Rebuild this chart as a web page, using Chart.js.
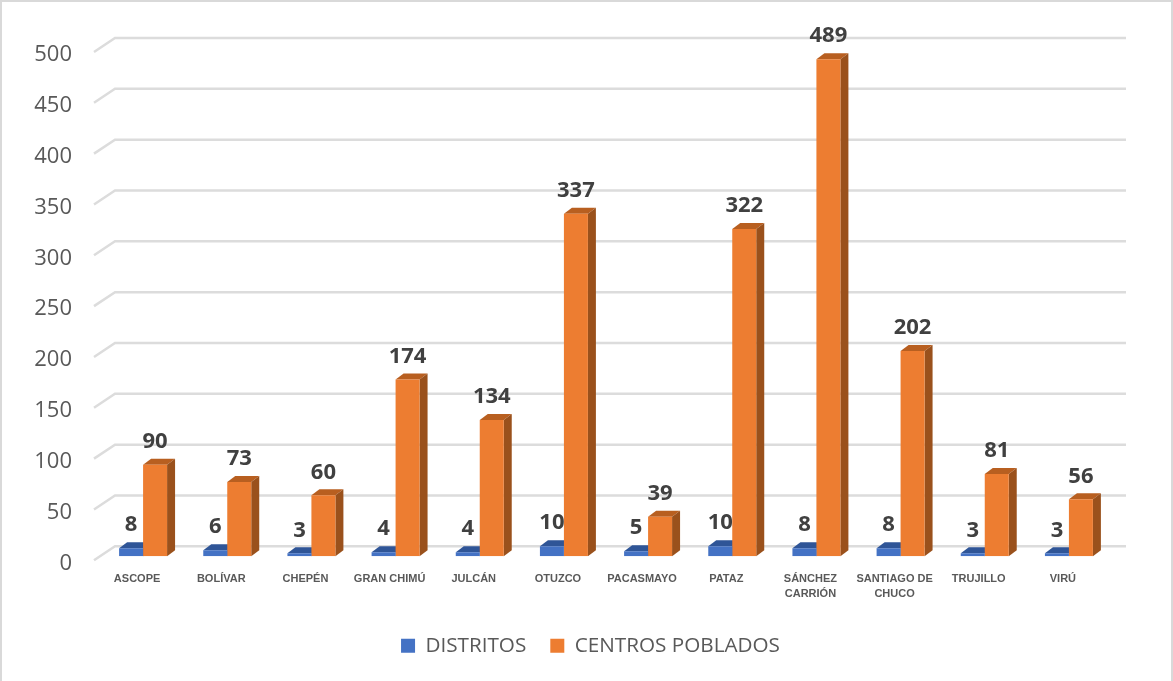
<!DOCTYPE html>
<html>
<head>
<meta charset="utf-8">
<script src="https://cdn.jsdelivr.net/npm/chart.js"></script>
<style>
  html, body { margin: 0; padding: 0; background: #fff; }
  #wrap { position: relative; width: 1173px; height: 681px; overflow: hidden; }
  #frame { position: absolute; inset: 0; border: 2px solid #d9d9d9; border-bottom: none; box-sizing: border-box; pointer-events: none; }
</style>
</head>
<body>
<div id="wrap">
  <canvas id="chart" width="1173" height="681"></canvas>
  <div id="frame"></div>
</div>
<script>
const categories = [
  "ASCOPE", "BOLÍVAR", "CHEPÉN", "GRAN CHIMÚ", "JULCÁN", "OTUZCO", "PACASMAYO",
  "PATAZ", ["SÁNCHEZ", "CARRIÓN"], ["SANTIAGO DE", "CHUCO"], "TRUJILLO", "VIRÚ"
];
const distritos = [8, 6, 3, 4, 4, 10, 5, 10, 8, 8, 3, 3];
const centrosPoblados = [90, 73, 60, 174, 134, 337, 39, 322, 489, 202, 81, 56];
const yMax = 500;
const yStep = 50;

const sideColors = [
  { top: "#2f5597", side: "#2b4d8a" },
  { top: "#b85f20", side: "#9a511c" }
];

// extruded faces behind each bar
const bar3d = {
  id: "bar3d",
  beforeDatasetsDraw(chart) {
    const c = chart.ctx;
    const dx = 8, dy = 6;
    chart.data.datasets.forEach((ds, i) => {
      chart.getDatasetMeta(i).data.forEach(bar => {
        const p = bar.getProps(["x", "y", "base", "width"], true);
        const l = p.x - p.width / 2, r = p.x + p.width / 2;
        c.fillStyle = sideColors[i].top;
        c.beginPath();
        c.moveTo(l, p.y);
        c.lineTo(l + dx, p.y - dy);
        c.lineTo(r + dx, p.y - dy);
        c.lineTo(r, p.y);
        c.fill();
        c.fillStyle = sideColors[i].side;
        c.beginPath();
        c.moveTo(r, p.y);
        c.lineTo(r + dx, p.y - dy);
        c.lineTo(r + dx, p.base - dy);
        c.lineTo(r, p.base);
        c.fill();
      });
    });
  }
};

// back wall grid with the little floor diagonal on the left
const grid3d = {
  id: "grid3d",
  beforeDatasetsDraw(chart) {
    const c = chart.ctx;
    const y = chart.scales.y;
    const a = chart.chartArea;
    c.save();
    c.strokeStyle = "#dcdcdc";
    c.lineWidth = 2.5;
    y.ticks.forEach(t => {
      const py = y.getPixelForValue(t.value);
      c.beginPath();
      c.moveTo(a.left - 7, py + 4);
      c.lineTo(a.left + 14, py - 10);
      c.lineTo(a.right + 15, py - 10);
      c.stroke();
    });
    c.restore();
  }
};

const valueLabels = {
  id: "valueLabels",
  afterDatasetsDraw(chart) {
    const c = chart.ctx;
    c.save();
    c.font = "bold 22px 'Open Sans'";
    c.fillStyle = "#404040";
    c.textAlign = "center";
    c.textBaseline = "middle";
    chart.data.datasets.forEach((ds, i) => {
      chart.getDatasetMeta(i).data.forEach((bar, j) => {
        c.fillText(ds.data[j], bar.x, bar.y - 23);
      });
    });
    c.restore();
  }
};

// the legend sits centred on the whole picture, not on the plot
const legendShift = {
  id: "legendShift",
  afterLayout(chart) {
    chart.legend.left += 35;
    chart.legend.right += 35;
  }
};

new Chart(document.getElementById("chart"), {
  type: "bar",
  data: {
    labels: categories,
    datasets: [
      { label: "DISTRITOS", data: distritos, backgroundColor: "#4472c4" },
      { label: "CENTROS POBLADOS", data: centrosPoblados, backgroundColor: "#ed7d31" }
    ]
  },
  options: {
    responsive: false,
    animation: false,
    devicePixelRatio: 1,
    layout: { padding: { top: 48, right: 62, bottom: 15, left: 0 } },
    datasets: { bar: { categoryPercentage: 0.57, barPercentage: 1, borderWidth: 0 } },
    plugins: {
      tooltip: { enabled: false },
      legend: {
        position: "bottom",
        labels: {
          boxWidth: 14,
          boxHeight: 14,
          padding: 24,
          color: "#595959",
          font: { family: "'Open Sans'", size: 20.7 }
        }
      }
    },
    scales: {
      x: {
        grid: { display: false },
        border: { display: false },
        afterFit(s) { s.height = 55; },
        ticks: {
          autoSkip: false,
          maxRotation: 0,
          minRotation: 0,
          labelOffset: -6,
          padding: 7,
          color: "#595959",
          font: { family: "'Liberation Sans'", size: 11, weight: "bold", lineHeight: 1.35 }
        }
      },
      y: {
        min: 0,
        max: yMax,
        grid: { display: false },
        border: { display: false },
        afterFit(s) { s.width = 101; },
        ticks: {
          stepSize: yStep,
          labelOffset: 7,
          padding: 21,
          color: "#595959",
          font: { family: "'Open Sans'", size: 22 }
        }
      }
    }
  },
  plugins: [grid3d, bar3d, valueLabels, legendShift]
});
</script>
</body>
</html>
